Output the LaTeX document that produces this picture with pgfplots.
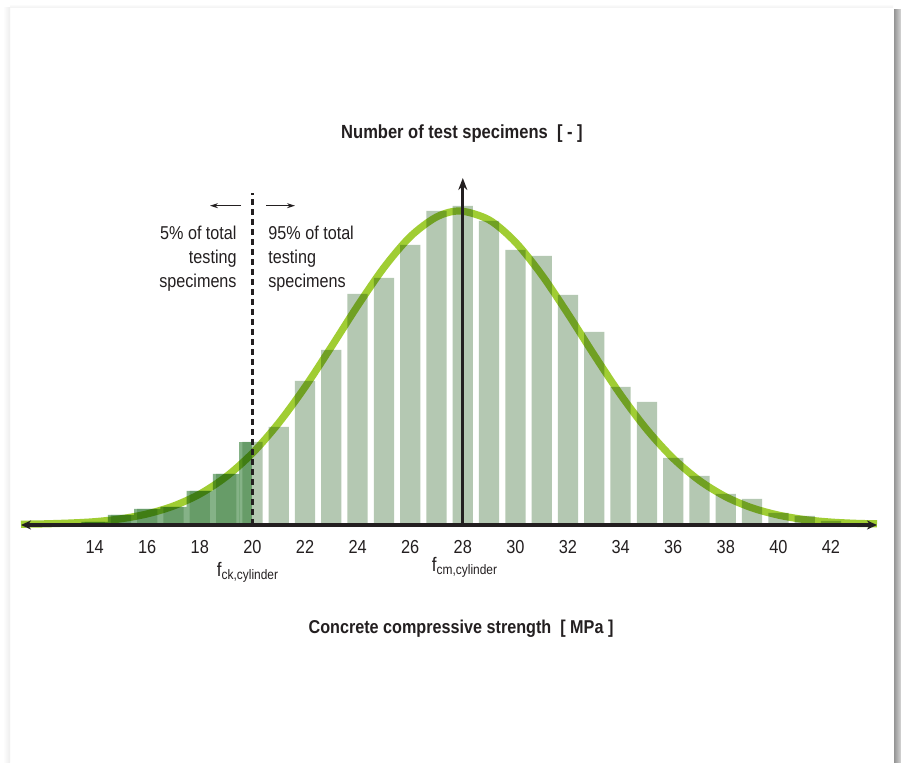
\documentclass[border=0pt]{standalone}
\usepackage{pgfplots}
\pgfplotsset{compat=1.18}
\usepackage{fontspec}
\setmainfont{Liberation Sans}[FakeStretch=0.87]
\usetikzlibrary{arrows.meta}

\definecolor{barlight}{HTML}{B4C8B2}
\definecolor{bardark}{HTML}{357F38}
\definecolor{curvegreen}{HTML}{A0CD33}
\definecolor{axisblack}{HTML}{231F20}

\begin{document}
\begin{tikzpicture}[x=0.5pt,y=0.5pt]
% page frame (1 unit = 1 px of the reference, y upwards)
\path[fill=white] (0,0) rectangle (901,762);
\shade[left color=white, right color=black!7] (3,0) rectangle (10,754);
\shade[top color=white, bottom color=black!6] (10,754) rectangle (893,758);
\shade[left color=black!42, right color=black!16] (894,0) rectangle (901,752);

\begin{axis}[
  at={(10.5pt,118.5pt)}, anchor=south west, scale only axis,
  width=428pt, height=173.5pt,
  xmin=11.2, xmax=43.75, ymin=0, ymax=347,
  axis line style={draw=none}, ytick=\empty,
  xtick={14,16,...,42}, major tick length=0pt,
  /pgf/number format/assume math mode=true,
  xticklabel style={anchor=base, yshift=-14.5pt, text=axisblack,
    font=\fontsize{9.4}{11}\selectfont},
  clip=false,
]
% all test specimens
\addplot[ybar, bar shift=0pt, bar width=0.77, draw=none, fill=barlight]
  coordinates {(14,3) (15,10) (16,16) (17,18) (18,34) (19,51) (20,83)
  (21,98) (22,144) (23,175) (24,231) (25,247) (26,280) (27,314) (28,319)
  (29,304) (30,275) (31,269) (32,230) (33,193) (34,138) (35,123) (36,67)
  (37,49) (38,31) (39,26) (40,12) (41,9) (42,4)};
% 5% fractile region
\addplot[ybar, bar shift=0pt, bar width=1, draw=none, fill=bardark, fill opacity=0.6]
  coordinates {(14,3) (15,10) (16,16) (17,18) (18,34) (19,51)};
\addplot[ybar, bar shift=0pt, bar width=0.5, draw=none, fill=bardark, fill opacity=0.6]
  coordinates {(19.75,83)};
% normal distribution
\addplot[smooth, line width=3.6pt, curvegreen, blend mode=multiply]
  coordinates {(11.2,0.8) (12,1.1) (13,1.9) (14,3.3) (15,6.2) (16,11.1)
  (17,19.0) (18,31.0) (19,48.3) (20,71.8) (21,102.0) (22,137.9) (23,178.1)
  (24,219.2) (25,257.4) (26,288.3) (27,308.0) (27.9,314) (29,305.1)
  (30,282.9) (31,250.2) (32,211.1) (33,169.8) (34,130.3) (35,95.4)
  (36,66.6) (37,44.4) (38,28.2) (39,17.1) (40,9.9) (41,5.4) (42,2.9)
  (43,1.6) (43.75,1.2)};

\draw[axisblack, line width=1.2pt, dash pattern=on 3pt off 2pt]
  (axis cs:20,0) -- (axis cs:20,332);
\draw[axisblack, line width=1.4pt, -{Stealth[length=6pt,width=4.5pt]}]
  (axis cs:28,0) -- (axis cs:28,347);
\draw[axisblack, line width=1.6pt,
  {Stealth[length=5pt,width=4.5pt]}-{Stealth[length=5pt,width=4.5pt]}]
  (axis cs:11.2,0) -- (axis cs:43.75,0);
\end{axis}

\begin{scope}[every node/.style={inner sep=0pt, text=axisblack,
    font=\fontsize{9.3}{11}\selectfont}]
\node[anchor=base east] at (237,522) {5\% of total};
\node[anchor=base east] at (237,498) {testing};
\node[anchor=base east] at (237,474) {specimens};
\node[anchor=base west] at (268,522) {95\% of total};
\node[anchor=base west] at (268,498) {testing};
\node[anchor=base west] at (268,474) {specimens};
\node[anchor=base, font=\fontsize{9.8}{11}\selectfont] at (248,186)
  {f\textsubscript{ck,cylinder}};
\node[anchor=base, font=\fontsize{9.8}{11}\selectfont] at (465,191)
  {f\textsubscript{cm,cylinder}};
\node[anchor=base, font=\fontsize{9.5}{11}\selectfont\bfseries] at (462,623)
  {Number of test specimens\ \ [ - ]};
\node[anchor=base, font=\fontsize{9.3}{11}\selectfont\bfseries] at (461,129)
  {Concrete compressive strength\ \ [ MPa ]};
\end{scope}

\draw[axisblack, line width=0.5pt, -{Stealth[length=4pt,width=2.5pt]}]
  (241,556.3) -- (210,556.3);
\draw[axisblack, line width=0.5pt, -{Stealth[length=4pt,width=2.5pt]}]
  (266,556.3) -- (295,556.3);
\end{tikzpicture}
\end{document}
